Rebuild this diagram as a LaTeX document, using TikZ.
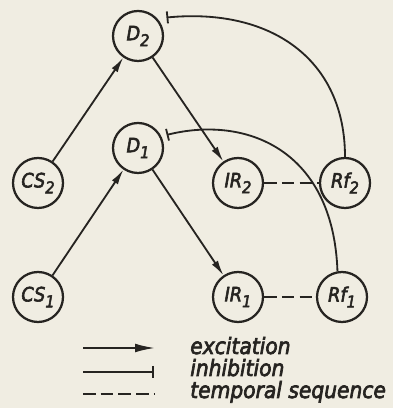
\documentclass[tikz,border=0pt]{standalone}
\usepackage{fontspec}
\setmainfont{DejaVu Sans Condensed Oblique}[FakeBold=3]
\usetikzlibrary{arrows.meta}

\definecolor{paper}{RGB}{240,237,226}
\definecolor{ink}{RGB}{38,36,33}

\newcommand{\nsub}[2]{#1\raisebox{-0.55ex}{\fontsize{11.5}{12}\selectfont #2}}

\begin{document}
\begin{tikzpicture}[
    color=ink,
    main/.style = {draw, circle, line width=1.6pt, minimum size=1.25cm, inner sep=0pt,
                   font=\fontsize{14}{16}\selectfont},
    exc/.style = {line width=1.3pt, -{Latex[length=3.8mm, width=1.8mm]}},
    inh/.style = {line width=1.3pt, -{Bar[width=3mm]}},
    seq/.style = {line width=1.3pt, dash pattern=on 9pt off 3.6pt},
    key/.style = {anchor=base west, inner sep=0pt, font=\fontsize{16}{18}\selectfont}]

    \fill[paper] (0,0) rectangle (9.825,10.2);
    \useasboundingbox (0,0) rectangle (9.825,10.2);

    % cells
    \node[main] (D2)  at (3.45,9.3)    {\nsub{D}{2}};
    \node[main] (D1)  at (3.45,6.5)    {\nsub{D}{1}};
    \node[main] (CS2) at (0.95,5.625)  {\nsub{CS}{2}};
    \node[main] (CS1) at (0.95,2.775)  {\nsub{CS}{1}};
    \node[main] (IR2) at (5.95,5.625)  {\nsub{IR}{2}};
    \node[main] (IR1) at (5.95,2.775)  {\nsub{IR}{1}};
    \node[main] (Rf2) at (8.625,5.625) {\nsub{Rf}{2}};
    \node[main] (Rf1) at (8.55,2.775)  {\nsub{Rf}{1}};

    % excitation
    \draw[exc] (CS2) -- (D2);
    \draw[exc] (D2) -- (IR2);
    \draw[exc] (CS1) -- (D1);
    \draw[exc] (D1) -- (IR1);

    % temporal sequence
    \draw[seq] (IR2) -- (Rf2);
    \draw[seq] (IR1) -- (Rf1);

    % inhibition back to the drive cells
    \draw[inh] (Rf2.north) .. controls +(90:2.45) and +(5.5:2.61) .. ([xshift=2.5mm]D2.north east);
    \draw[inh] (Rf1.100) .. controls +(92:3.05) and +(14:2.04) .. ([xshift=1.5mm]D1.30);

    % legend
    \coordinate (e1) at (2.075,1.5);  \coordinate (e2) at (3.875,1.5);
    \coordinate (i1) at (2.075,0.9);  \coordinate (i2) at (3.85,0.9);
    \coordinate (s1) at (2.075,0.35); \coordinate (s2) at (3.875,0.35);
    \draw[line width=1.3pt, -{Latex[length=5mm, width=2.2mm]}] (e1) -- (e2);
    \draw[inh] (i1) -- (i2);
    \draw[seq] (s1) -- (s2);
    \node[key] (kexc) at (4.75,1.35) {excitation};
    \node[key] (kinh) at (4.75,0.8)  {inhibition};
    \node[key] (kseq) at (4.75,0.25) {temporal sequence};

\end{tikzpicture}
\end{document}
